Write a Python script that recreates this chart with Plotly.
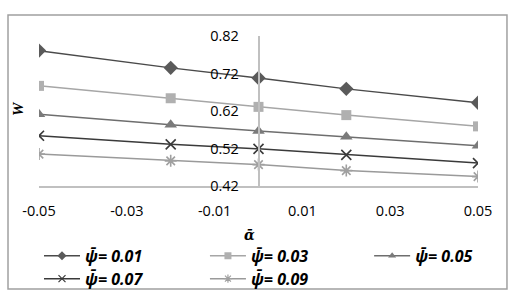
import plotly.graph_objects as go

alpha = [-0.05, -0.02, 0.0, 0.02, 0.05]
names = ["ψ̄= 0.01", "ψ̄= 0.03", "ψ̄= 0.05", "ψ̄= 0.07", "ψ̄= 0.09"]
w_001 = [0.781, 0.735, 0.708, 0.679, 0.642]
w_003 = [0.687, 0.654, 0.631, 0.609, 0.579]
w_005 = [0.611, 0.583, 0.567, 0.551, 0.527]
w_007 = [0.554, 0.531, 0.519, 0.503, 0.481]
w_009 = [0.505, 0.487, 0.477, 0.461, 0.445]
x_tickvals = [-0.05, -0.03, -0.01, 0.01, 0.03, 0.05]
x_ticktext = ["-0.05", "-0.03", "-0.01", "0.01", "0.03", "0.05"]
y_tickvals = [0.42, 0.52, 0.62, 0.72, 0.82]
y_ticktext = ["0.42", "0.52", "0.62", "0.72", "0.82"]

series = [w_001, w_003, w_005, w_007, w_009]
line_colors = ["#4a4a4a", "#a6a6a6", "#6e6e6e", "#3a3a3a", "#9a9a9a"]
marker_colors = ["#5a5a5a", "#b0b0b0", "#7a7a7a", "#3a3a3a", "#a0a0a0"]
symbols = ["diamond", "square", "triangle-up", "x-thin-open", "asterisk-open"]
sizes = [11, 10, 11, 10, 10]
legend_ids = ["legend", "legend2", "legend3", "legend4", "legend5"]
legend_pos = [(0.0, -0.352), (0.378, -0.352), (0.752, -0.352), (0.0, -0.505), (0.378, -0.505)]

fig = go.Figure()
for i, ys in enumerate(series):
    open_sym = symbols[i].endswith("open")
    fig.add_trace(go.Scatter(
        x=alpha, y=ys, mode="lines+markers", showlegend=False,
        line=dict(color=line_colors[i], width=1.5),
        marker=dict(symbol=symbols[i], size=sizes[i], color=marker_colors[i],
                    line=dict(color=marker_colors[i], width=1.6 if open_sym else 0)),
    ))
    # legend-only entry with smaller marker
    fig.add_trace(go.Scatter(
        x=[None], y=[None], mode="lines+markers", name="<b><i>" + names[i] + "</i></b>",
        legend=legend_ids[i], showlegend=True,
        line=dict(color=line_colors[i], width=1.5),
        marker=dict(symbol=symbols[i], size=7, color=marker_colors[i],
                    line=dict(color=marker_colors[i], width=1.2 if open_sym else 0)),
    ))

legend_layout = {}
for lid, (lx, ly) in zip(legend_ids, legend_pos):
    legend_layout[lid] = dict(x=lx, y=ly, xanchor="left", yanchor="top",
                              orientation="h", itemwidth=36, bgcolor="rgba(0,0,0,0)",
                              font=dict(family="Open Sans", size=16, color="#000"))

fig.update_layout(
    width=522, height=292,
    margin=dict(l=39, r=44, t=36, b=106, autoexpand=False),
    paper_bgcolor="white", plot_bgcolor="white",
    font=dict(family="Open Sans", size=14.5, color="#000"),
    showlegend=True,
    xaxis=dict(range=[-0.05, 0.05], tickvals=x_tickvals, ticktext=x_ticktext,
               showgrid=False, zeroline=False, showline=True, linecolor="#c0c0c0",
               linewidth=1.5, ticks="", ticklabelstandoff=11),
    yaxis=dict(range=[0.42, 0.82], tickvals=y_tickvals, ticktext=y_ticktext,
               showgrid=False, zeroline=False, showline=True, linecolor="#c0c0c0",
               linewidth=1.5, ticks="", anchor="free", position=0.5,
               ticklabelstandoff=16),
    annotations=[
        dict(text="<b><i>W</i></b>", xref="paper", yref="paper", x=-0.048, y=0.52,
             xanchor="center", yanchor="middle",
             showarrow=False, textangle=-90, font=dict(family="Liberation Serif", size=15)),
        dict(text="<b><i>ᾱ</i></b>", xref="paper", yref="paper", x=0.48, y=-0.327,
             xanchor="center", yanchor="middle",
             showarrow=False, font=dict(family="DejaVu Serif", size=14)),
    ],
    shapes=[dict(type="rect", xref="paper", yref="paper", x0=-0.0706, x1=1.066,
                 y0=-0.687, y1=1.14, line=dict(color="#a0a0a0", width=1.5))],
    **legend_layout,
)

fig.write_html("out.html")
